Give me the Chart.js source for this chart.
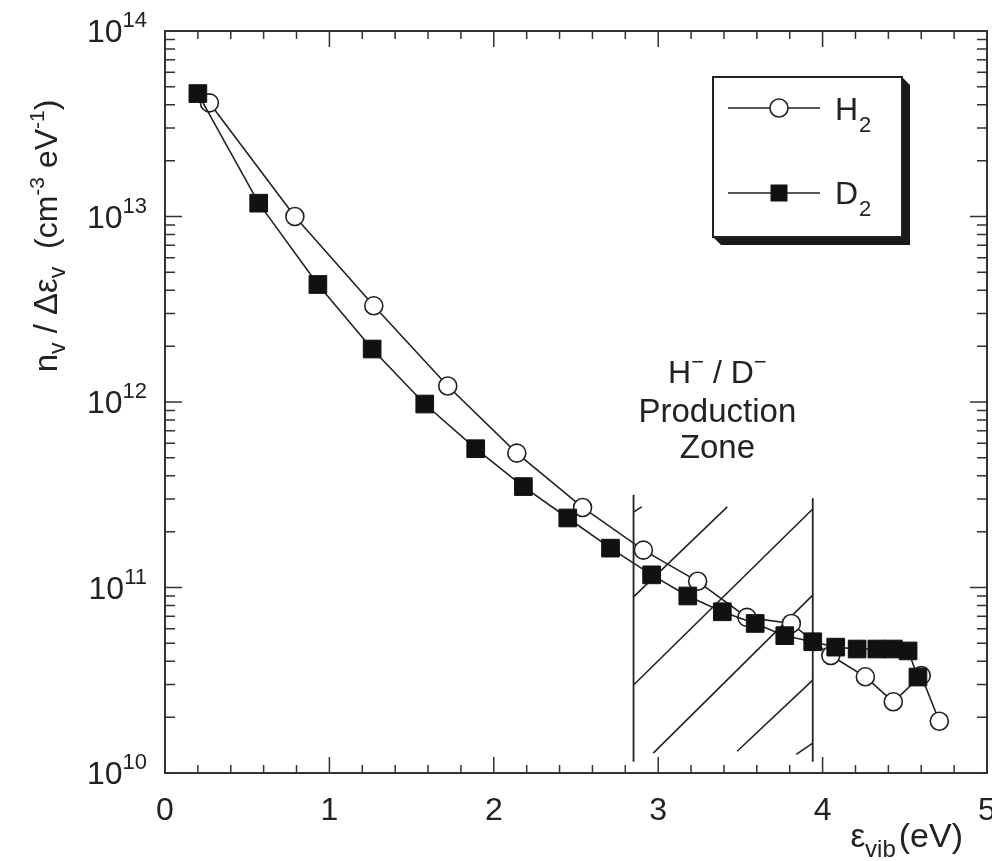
<!DOCTYPE html>
<html>
<head>
<meta charset="utf-8">
<script src="https://cdn.jsdelivr.net/npm/chart.js@4.4.1/dist/chart.umd.min.js"></script>
<style>
  html, body { margin: 0; padding: 0; background: #fff; }
  #wrap { width: 992px; height: 861px; }
</style>
</head>
<body>
<div id="wrap"><canvas id="vibChart" width="992" height="861"></canvas></div>
<script>
// H2 - open circles
var h2Energy  = [0.27, 0.79, 1.27, 1.72, 2.14, 2.54, 2.91, 3.24, 3.54, 3.81, 4.05, 4.26, 4.43, 4.60, 4.71];
var h2Density = [4.1e13, 1.0e13, 3.3e12, 1.22e12, 5.3e11, 2.7e11, 1.59e11, 1.08e11, 6.9e10, 6.4e10, 4.3e10, 3.3e10, 2.42e10, 3.35e10, 1.9e10];

// D2 - filled squares
var d2Energy  = [0.20, 0.57, 0.93, 1.26, 1.58, 1.89, 2.18, 2.45, 2.71, 2.96, 3.18, 3.39, 3.59, 3.77, 3.94, 4.08, 4.21, 4.33, 4.43, 4.52, 4.58];
var d2Density = [4.6e13, 1.18e13, 4.3e12, 1.93e12, 9.75e11, 5.6e11, 3.5e11, 2.37e11, 1.63e11, 1.17e11, 9.0e10, 7.4e10, 6.4e10, 5.5e10, 5.1e10, 4.77e10, 4.66e10, 4.66e10, 4.66e10, 4.55e10, 3.29e10];

// production zone (vertical bounds + hatching), in data units
var zoneX      = [2.85, 3.94];
var zoneTop    = [3.16e11, 3.03e11];
var zoneBottom = 1.15e10;
var hatchX = [[2.85, 2.90], [2.85, 3.42], [2.85, 3.94], [2.97, 3.94], [3.48, 3.94], [3.84, 3.94]];
var hatchY = [[2.55e11, 2.72e11], [8.9e10, 2.72e11], [2.98e10, 2.65e11], [1.28e10, 9.1e10], [1.31e10, 3.17e10], [1.26e10, 1.45e10]];

// axes
var xTickValues = [0, 1, 2, 3, 4, 5];
var yExponents  = [10, 11, 12, 13, 14];

var FONT = '"Liberation Sans", Arial, Helvetica, sans-serif';
var INK = '#222';

function pts(xs, ys) {
  return xs.map(function (x, i) { return { x: x, y: ys[i] }; });
}

var datasets = [];
datasets.push({
  label: 'D2', data: pts(d2Energy, d2Density), showLine: true,
  borderColor: INK, borderWidth: 1.6,
  pointStyle: 'rect', pointRadius: 12.5,
  pointBackgroundColor: '#111', pointBorderColor: '#111', pointBorderWidth: 1,
  order: 0
});
datasets.push({
  label: 'H2', data: pts(h2Energy, h2Density), showLine: true,
  borderColor: INK, borderWidth: 1.6,
  pointStyle: 'circle', pointRadius: 9,
  pointBackgroundColor: '#fff', pointBorderColor: INK, pointBorderWidth: 1.6,
  order: 1
});
zoneX.forEach(function (x, i) {
  datasets.push({
    data: [{ x: x, y: zoneTop[i] }, { x: x, y: zoneBottom }], showLine: true,
    borderColor: INK, borderWidth: 1.8, pointRadius: 0, order: 2
  });
});
hatchX.forEach(function (xs, i) {
  datasets.push({
    data: pts(xs, hatchY[i]), showLine: true,
    borderColor: INK, borderWidth: 1.6, pointRadius: 0, order: 2
  });
});

// text made of runs: [text, size, baselineShift, gapBefore]
function drawRuns(ctx, runs, x, y, align) {
  var total = 0;
  runs.forEach(function (r) {
    ctx.font = r[1] + 'px ' + FONT;
    r.w = ctx.measureText(r[0]).width;
    total += r.w + (r[3] || 0);
  });
  var cx = align === 'right' ? x - total : (align === 'center' ? x - total / 2 : x);
  ctx.textAlign = 'left';
  ctx.textBaseline = 'alphabetic';
  runs.forEach(function (r) {
    cx += (r[3] || 0);
    ctx.font = r[1] + 'px ' + FONT;
    ctx.fillText(r[0], cx, y + r[2]);
    cx += r.w;
  });
}

var framePlugin = {
  id: 'frame',
  afterDatasetsDraw: function (chart) {
    var ctx = chart.ctx, ca = chart.chartArea;
    var xs = chart.scales.x, ys = chart.scales.y;
    ctx.save();
    ctx.strokeStyle = '#333';
    ctx.lineWidth = 2;
    ctx.strokeRect(ca.left, ca.top, ca.right - ca.left, ca.bottom - ca.top);

    // inward ticks on all four sides
    ctx.lineWidth = 1.5;
    ctx.beginPath();
    for (var i = 0; i <= 25; i++) {
      var px = xs.getPixelForValue(i * 0.2);
      var len = (i % 5 === 0) ? 16 : 8;
      ctx.moveTo(px, ca.bottom); ctx.lineTo(px, ca.bottom - len);
      ctx.moveTo(px, ca.top); ctx.lineTo(px, ca.top + len);
    }
    yExponents.forEach(function (e, k) {
      var top = (k === yExponents.length - 1) ? 1 : 9;
      for (var m = 1; m <= top; m++) {
        var py = ys.getPixelForValue(m * Math.pow(10, e));
        var l = (m === 1) ? 17 : 10;
        ctx.moveTo(ca.left, py); ctx.lineTo(ca.left + l, py);
        ctx.moveTo(ca.right, py); ctx.lineTo(ca.right - l, py);
      }
    });
    ctx.stroke();
    ctx.restore();
  },
  afterDraw: function (chart) {
    var ctx = chart.ctx, ca = chart.chartArea;
    var xs = chart.scales.x, ys = chart.scales.y;
    ctx.save();
    ctx.fillStyle = INK;

    // tick labels
    yExponents.forEach(function (e) {
      var py = ys.getPixelForValue(Math.pow(10, e));
      drawRuns(ctx, [['10', 32, 0], [String(e), 22, -15]], ca.left - 18, py + 11, 'right');
    });
    xTickValues.forEach(function (v) {
      drawRuns(ctx, [[String(v), 32, 0]], xs.getPixelForValue(v), ca.bottom + 47, 'center');
    });

    // x title
    drawRuns(ctx, [['\u03b5', 33, 0], ['vib', 24, 10], ['(eV)', 34, 0, 3]], ca.right - 24, ca.bottom + 74, 'right');

    // y title (rotated)
    ctx.save();
    ctx.translate(57, 236);
    ctx.rotate(-Math.PI / 2);
    drawRuns(ctx, [['n', 33, 0], ['v', 23, 8], [' / \u0394\u03b5', 33, 0], ['v', 23, 8],
      ['  (cm', 32, 0], ['-3', 21, -13], [' eV', 32, 0], ['-1', 21, -13], [')', 32, 0]], 0, 0, 'center');
    ctx.restore();

    // production zone label
    var zx = xs.getPixelForValue(3.36);
    drawRuns(ctx, [['H', 32, 0], ['\u2212', 22, -14], [' / D', 32, 0], ['\u2212', 22, -14]], zx, ca.top + 352, 'center');
    drawRuns(ctx, [['Production', 33, 0]], zx, ca.top + 391, 'center');
    drawRuns(ctx, [['Zone', 33, 0]], zx, ca.top + 427, 'center');

    // legend box with shadow
    var bx = ca.right - 274, by = ca.top + 46, bw = 189, bh = 160, sh = 8;
    ctx.fillStyle = '#1a1a1a';
    ctx.beginPath();
    ctx.moveTo(bx + bw, by);
    ctx.lineTo(bx + bw + sh, by + sh);
    ctx.lineTo(bx + bw + sh, by + bh + sh);
    ctx.lineTo(bx + sh, by + bh + sh);
    ctx.lineTo(bx, by + bh);
    ctx.lineTo(bx + bw, by + bh);
    ctx.closePath();
    ctx.fill();
    ctx.fillStyle = '#fff';
    ctx.fillRect(bx, by, bw, bh);
    ctx.strokeStyle = INK;
    ctx.lineWidth = 2;
    ctx.strokeRect(bx, by, bw, bh);

    var lx0 = bx + 15, lx1 = bx + 107, mx = bx + 66;
    var y1 = by + 31, y2 = by + 116;
    ctx.lineWidth = 1.6;
    ctx.beginPath();
    ctx.moveTo(lx0, y1); ctx.lineTo(lx1, y1);
    ctx.moveTo(lx0, y2); ctx.lineTo(lx1, y2);
    ctx.stroke();
    ctx.fillStyle = '#fff';
    ctx.beginPath();
    ctx.arc(mx, y1, 9, 0, Math.PI * 2);
    ctx.fill();
    ctx.stroke();
    ctx.fillStyle = '#111';
    ctx.fillRect(mx - 8.5, y2 - 8.5, 17, 17);

    ctx.fillStyle = INK;
    drawRuns(ctx, [['H', 32, 0], ['2', 22, 12, 1]], bx + 122, y1 + 12, 'left');
    drawRuns(ctx, [['D', 32, 0], ['2', 22, 12, 1]], bx + 122, y2 + 11, 'left');
    ctx.restore();
  }
};

new Chart(document.getElementById('vibChart'), {
  type: 'scatter',
  data: { datasets: datasets },
  options: {
    responsive: false,
    animation: false,
    layout: { autoPadding: false, padding: { left: 165, top: 31, right: 5, bottom: 88 } },
    elements: { line: { tension: 0 } },
    plugins: { legend: { display: false }, tooltip: { enabled: false } },
    scales: {
      x: { type: 'linear', min: 0, max: 5, display: false },
      y: { type: 'logarithmic', min: 1e10, max: 1e14, display: false }
    }
  },
  plugins: [framePlugin]
});
</script>
</body>
</html>
